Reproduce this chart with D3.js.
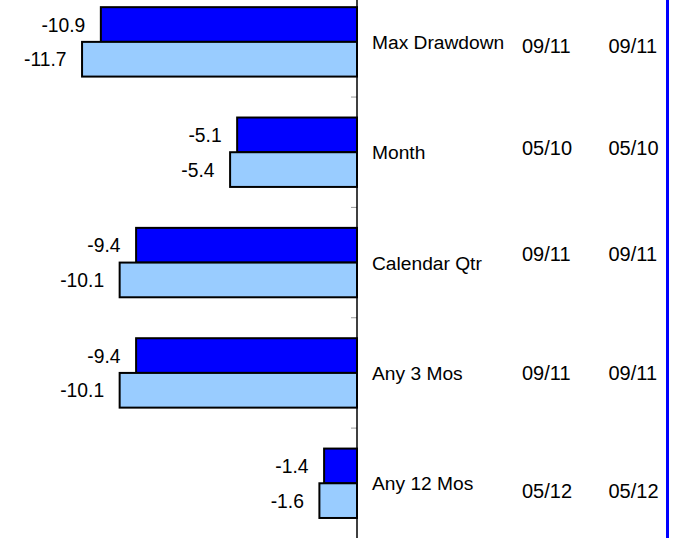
<!DOCTYPE html>
<html>
<head>
<meta charset="utf-8">
<script src="https://cdn.jsdelivr.net/npm/d3@7"></script>
<style>
  html, body { margin: 0; padding: 0; background: #ffffff; }
  svg { display: block; }
  text { font-family: "Liberation Sans", Arial, sans-serif; fill: #000; }
</style>
</head>
<body>
<svg id="chart" width="683" height="538"></svg>
<script>
// Drawdown periods
const categories = ["Max Drawdown", "Month", "Calendar Qtr", "Any 3 Mos", "Any 12 Mos"];
// Worst returns (%) – fund and benchmark
const fundValues  = [-10.9, -5.1, -9.4, -9.4, -1.4];
const benchValues = [-11.7, -5.4, -10.1, -10.1, -1.6];
// Dates when each worst return occurred
const fundDates  = ["09/11", "05/10", "09/11", "09/11", "05/12"];
const benchDates = ["09/11", "05/10", "09/11", "09/11", "05/12"];
const seriesKeys = ["fund", "bench"];

const svg = d3.select("#chart");
const W = 683, H = 538;
const zeroX = 357;

const rows = categories.map((c, i) => ({
  category: c,
  fund: fundValues[i],
  bench: benchValues[i],
  fundDate: fundDates[i],
  benchDate: benchDates[i]
}));

const x = d3.scaleLinear().domain([-15, 0]).range([zeroX - 15 * 23.5, zeroX]);
const y = d3.scaleBand().domain(categories).range([-13.3, 538.45])
  .paddingInner(0.371).paddingOuter(0.1855);
const ySub = d3.scaleBand().domain(seriesKeys).range([0, y.bandwidth()]);
const colors = { fund: "#0000ff", bench: "#99ccff" };
// plain hyphen for negatives
const fmt = v => d3.format(".1f")(v).replace("\u2212", "-");

// Bars
const groups = svg.append("g").selectAll("g").data(rows).join("g")
  .attr("transform", d => `translate(0,${y(d.category)})`);

groups.selectAll("rect").data(d => seriesKeys.map(k => ({ key: k, value: d[k] })))
  .join("rect")
  .attr("x", d => x(d.value))
  .attr("y", d => ySub(d.key))
  .attr("width", d => x(0) - x(d.value))
  .attr("height", ySub.bandwidth())
  .attr("fill", d => colors[d.key])
  .attr("stroke", "#000")
  .attr("stroke-width", 2);

// Value labels left of each bar
groups.selectAll("text.val").data(d => seriesKeys.map(k => ({ key: k, value: d[k] })))
  .join("text")
  .attr("class", "val")
  .attr("x", d => x(d.value) - 15.5)
  .attr("y", d => ySub(d.key) + ySub.bandwidth() / 2 + 7)
  .attr("text-anchor", "end")
  .style("font-size", "19.3px")
  .text(d => fmt(d.value));

// Category axis: ticks between bands
const step = y.step();
const boundaries = categories.slice(1).map(c => y(c) - (step - y.bandwidth()) / 2);
svg.append("g").selectAll("line").data(boundaries).join("line")
  .attr("x1", zeroX - 6).attr("x2", zeroX)
  .attr("y1", d => d).attr("y2", d => d)
  .attr("stroke", "#9a9a9a").attr("stroke-width", 1);
svg.append("line")
  .attr("x1", zeroX).attr("x2", zeroX)
  .attr("y1", 0).attr("y2", H)
  .attr("stroke", "#000").attr("stroke-width", 1.5);

// Category names and dates
const labelShift = 7;
const dateShift = [11, 3, -2, 7, 15];
const labelG = svg.append("g");
rows.forEach((d, i) => {
  const cy = y(d.category) + y.bandwidth() / 2;
  labelG.append("text")
    .attr("x", 372).attr("y", cy + labelShift)
    .style("font-size", "19.2px")
    .text(d.category);
  labelG.append("text")
    .attr("x", 522).attr("y", cy + dateShift[i])
    .style("font-size", "20px")
    .text(d.fundDate);
  labelG.append("text")
    .attr("x", 608.5).attr("y", cy + dateShift[i])
    .style("font-size", "20px")
    .text(d.benchDate);
});

// Right border line
svg.append("line")
  .attr("x1", 667.5).attr("x2", 667.5)
  .attr("y1", 0).attr("y2", H)
  .attr("stroke", "#0000ff").attr("stroke-width", 3);
</script>
</body>
</html>
